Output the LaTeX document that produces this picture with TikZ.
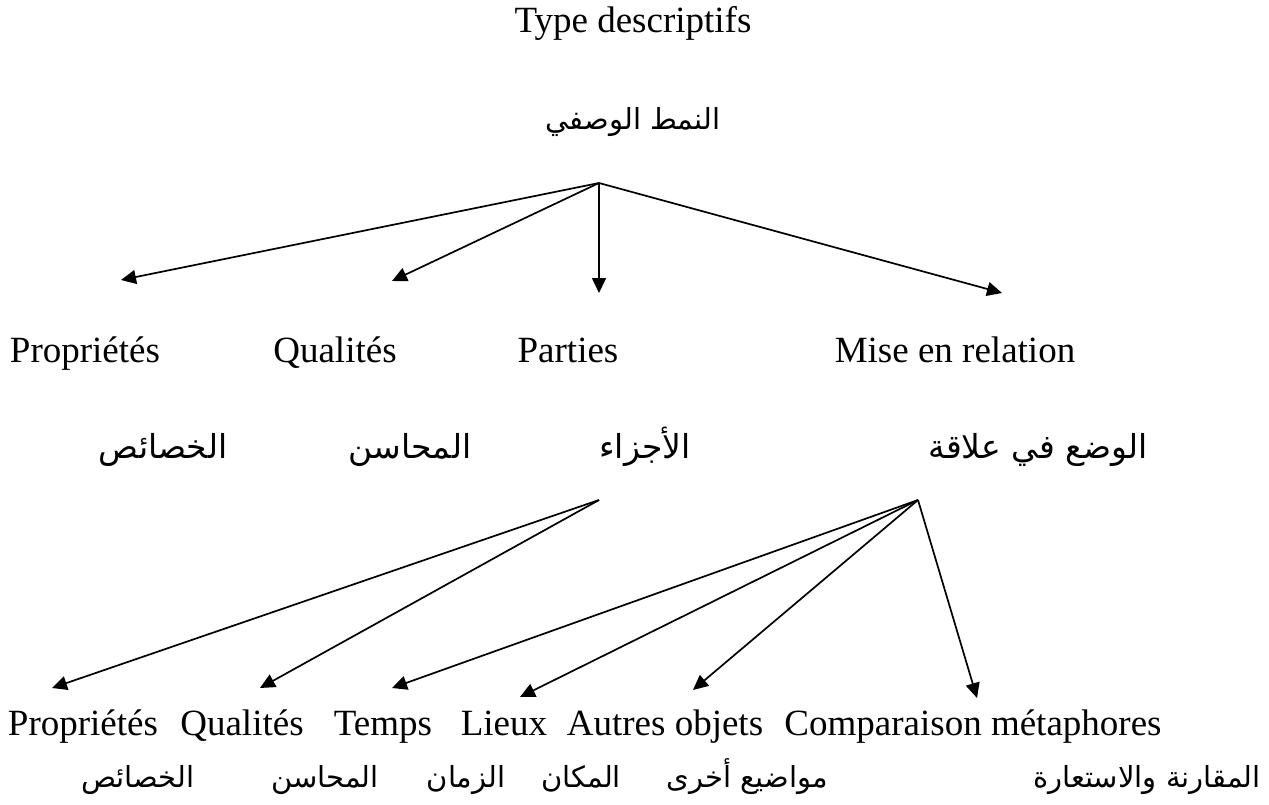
\documentclass[tikz,border=0pt]{standalone}
\usepackage{fontspec}
\setmainfont{Liberation Serif}
\newfontfamily\arabicfont[Script=Arabic]{DejaVu Sans}
\TeXXeTstate=1
\usetikzlibrary{arrows.meta}
\tikzset{
  lat/.style={anchor=base, inner sep=0pt, font=\fontsize{37}{44}\selectfont},
  arb/.style={anchor=base, inner sep=0pt, font=\arabicfont\fontsize{29}{36}\selectfont},
  arbm/.style={anchor=base, inner sep=0pt, font=\arabicfont\fontsize{33}{40}\selectfont},
  arr/.style={line width=1.7pt, -{Triangle[length=15pt,width=14pt]}}
}
\begin{document}
\begin{tikzpicture}[x=1pt,y=-1pt]
\useasboundingbox (0,0) rectangle (1269,805);
% titles
\node[lat] (title) at (633,33) {Type descriptifs};
\node[arb] (titlear) at (633,130) {\beginR النمط الوصفي\endR};
% level 1
\node[lat] (p1) at (85,362) {Propriétés};
\node[lat] (q1) at (335,362) {Qualités};
\node[lat] (pa1) at (568,362) {Parties};
\node[lat] (m1) at (955,362) {Mise en relation};
\node[arbm] (p1a) at (163,458) {\beginR الخصائص\endR};
\node[arbm] (q1a) at (410,458) {\beginR المحاسن\endR};
\node[arbm] (pa1a) at (645,458) {\beginR الأجزاء\endR};
\node[arbm] (m1a) at (1038,458) {\beginR الوضع في علاقة\endR};
% level 2
\node[lat] (p2) at (83,735) {Propriétés};
\node[lat] (q2) at (242,735) {Qualités};
\node[lat] (t2) at (383,735) {Temps};
\node[lat] (l2) at (504,735) {Lieux};
\node[lat] (a2) at (665,735) {Autres objets};
\node[lat] (c2) at (973,735) {Comparaison métaphores};
\node[arb] (p2a) at (138,787) {\beginR الخصائص\endR};
\node[arb] (q2a) at (325,787) {\beginR المحاسن\endR};
\node[arb] (t2a) at (466,787) {\beginR الزمان\endR};
\node[arb] (l2a) at (581,787) {\beginR المكان\endR};
\node[arb] (a2a) at (747,787) {\beginR مواضيع أخرى\endR};
\node[arb] (c2a) at (1147,787) {\beginR المقارنة والاستعارة\endR};
% junctions and arrow ends
\coordinate (j0) at (599,183);
\coordinate (e1) at (121,280);
\coordinate (e2) at (392,281);
\coordinate (e3) at (599,293);
\coordinate (e4) at (1002,293);
\coordinate (ja) at (599,500);
\coordinate (jb) at (918,500);
\coordinate (f1) at (52,688);
\coordinate (f2) at (260,688);
\coordinate (f3) at (392,688);
\coordinate (f4) at (520,697);
\coordinate (f5) at (693,690);
\coordinate (f6) at (977,698);
% arrows
\draw[arr] (j0) -- (e1);
\draw[arr] (j0) -- (e2);
\draw[arr] (j0) -- (e3);
\draw[arr] (j0) -- (e4);
\draw[arr] (ja) -- (f1);
\draw[arr] (ja) -- (f2);
\draw[arr] (jb) -- (f3);
\draw[arr] (jb) -- (f4);
\draw[arr] (jb) -- (f5);
\draw[arr] (jb) -- (f6);
\end{tikzpicture}
\end{document}
